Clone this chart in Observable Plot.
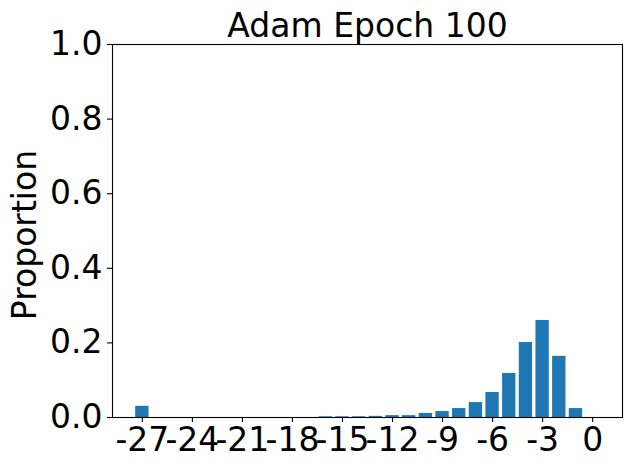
<!DOCTYPE html>
<html>
<head>
<meta charset="utf-8">
<script src="https://cdn.jsdelivr.net/npm/d3@7"></script>
<script src="https://cdn.jsdelivr.net/npm/@observablehq/plot@0.6"></script>
<style>
  html, body { margin: 0; padding: 0; background: white; }
</style>
</head>
<body>
<div id="chart"></div>
<script>
const title = "Adam Epoch 100";
const yLabel = "Proportion";
const bins = [-27, -26, -25, -24, -23, -22, -21, -20, -19, -18, -17, -16, -15, -14, -13, -12, -11, -10, -9, -8, -7, -6, -5, -4, -3, -2, -1, 0];
const proportions = [0.030, 0, 0, 0, 0, 0, 0, 0, 0, 0, 0, 0.002, 0.002, 0.002, 0.003, 0.005, 0.005, 0.011, 0.016, 0.024, 0.040, 0.067, 0.118, 0.201, 0.260, 0.164, 0.024, 0];
const xTicks = [-27, -24, -21, -18, -15, -12, -9, -6, -3, 0];
const yTicks = [0, 0.2, 0.4, 0.6, 0.8, 1.0];

const data = bins.map((b, i) => ({bin: b, value: proportions[i]}));
const barHalf = 0.4;

const chart = Plot.plot({
  width: 630,
  height: 470,
  marginLeft: 112,
  marginRight: 8,
  marginTop: 44,
  marginBottom: 53,
  style: {fontFamily: "DejaVu Sans", fontSize: "33px", background: "white", color: "black"},
  x: {domain: [-28.79, 1.79]},
  y: {domain: [0, 1]},
  marks: [
    Plot.rectY(data, {x1: d => d.bin - barHalf, x2: d => d.bin + barHalf, y: "value", fill: "#1f77b4"}),
    Plot.frame({stroke: "black", strokeWidth: 1.1}),
    Plot.axisY({ticks: yTicks, tickFormat: d => d.toFixed(1), tickSize: 5, tickPadding: 5, fontSize: 33, label: null, strokeWidth: 1.1}),
    Plot.axisX({ticks: xTicks, tickFormat: d => String(d), tickSize: 5, tickPadding: 5, fontSize: 33, label: null, strokeWidth: 1.1}),
    Plot.text([title], {frameAnchor: "top", dy: -18, lineAnchor: "middle", textAnchor: "middle", fontSize: 33, text: d => d, fill: "black"}),
    Plot.text([yLabel], {frameAnchor: "left", dx: -87, dy: 4, rotate: -90, lineAnchor: "middle", textAnchor: "middle", fontSize: 33, text: d => d, fill: "black"})
  ]
});
document.getElementById("chart").append(chart);
</script>
</body>
</html>
